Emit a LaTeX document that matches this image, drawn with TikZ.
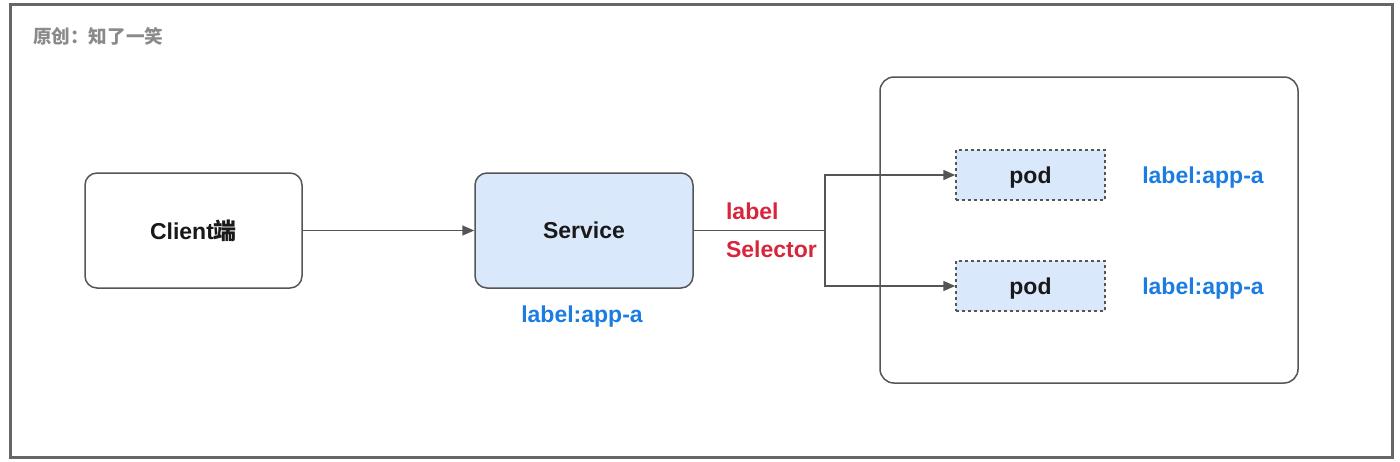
\documentclass[tikz,border=0pt]{standalone}
\usepackage{fontspec}
\setmainfont{Liberation Sans}
\newfontfamily\cjk{Noto Sans CJK SC}
\usepackage{tikz}
\usetikzlibrary{arrows.meta, shapes, calc, positioning}
\usepackage{xcolor}
\definecolor{linegray}{HTML}{555555}
\definecolor{framegray}{HTML}{666666}
\definecolor{podblue}{HTML}{DAE8FC}
\definecolor{tagblue}{HTML}{1B7CE2}
\definecolor{selred}{HTML}{D8253C}
\definecolor{titlegray}{HTML}{8A8A8A}

\tikzset{
  box/.style={draw=linegray, line width=0.75pt, rounded corners=6pt, fill=white,
              font=\fontsize{11.5}{13}\selectfont\bfseries, text=black!90},
  podbox/.style={draw=linegray, line width=0.75pt, dash pattern=on 1.5pt off 1.5pt, fill=podblue,
              minimum width=74.5pt, minimum height=25pt, text depth=0pt,
              font=\fontsize{11.5}{13}\selectfont\bfseries, text=black!90},
  tag/.style={text=tagblue, text depth=0pt, font=\fontsize{11.5}{13}\selectfont\bfseries},
  conn/.style={draw=linegray, line width=0.8pt},
  arr/.style={conn, -{Triangle[length=6pt, width=5pt]}}
}

\begin{document}
\begin{tikzpicture}[x=0.5pt, y=-0.5pt]
  \useasboundingbox (0,0) rectangle (1400,461);

  % outer frame and title
  \draw[framegray, line width=1.5pt] (10,4) rectangle (1392,457);
  \node[text=titlegray, font=\cjk\fontsize{9.3}{11}\selectfont\bfseries, anchor=west] (title) at (26,36) {原创：知了一笑};

  % client and service
  \node[box, minimum width=108.5pt, minimum height=57.5pt] (client) at (193.5,230.5) {Client{\cjk 端}};
  \node[box, fill=podblue, minimum width=109pt, minimum height=57.5pt] (svc) at (584,230.5) {Service};
  \node[tag] (svctag) at (582,314) {label:app-a};

  % pods inside the cluster box
  \node[box, rounded corners=7pt, minimum width=209pt, minimum height=153pt] (cluster) at (1089,230) {};
  \node[podbox] (pod1) at (1030.5,175) {pod};
  \node[podbox] (pod2) at (1030.5,286) {pod};
  \node[tag] (podtag1) at (1203,175) {label:app-a};
  \node[tag] (podtag2) at (1203,286) {label:app-a};

  % selector
  \node[text=selred, font=\fontsize{11.5}{13}\selectfont\bfseries, anchor=west] (sel1) at (719,211) {label};
  \node[text=selred, font=\fontsize{11.5}{13}\selectfont\bfseries, anchor=west] (sel2) at (719,249) {Selector};
  \coordinate (split) at (825,230.5);

  % connectors
  \draw[arr] (client) -- (svc);
  \draw[conn] (svc) -- (split);
  \draw[arr] (split) |- (pod1.west);
  \draw[arr] (split) |- (pod2.west);
\end{tikzpicture}
\end{document}
